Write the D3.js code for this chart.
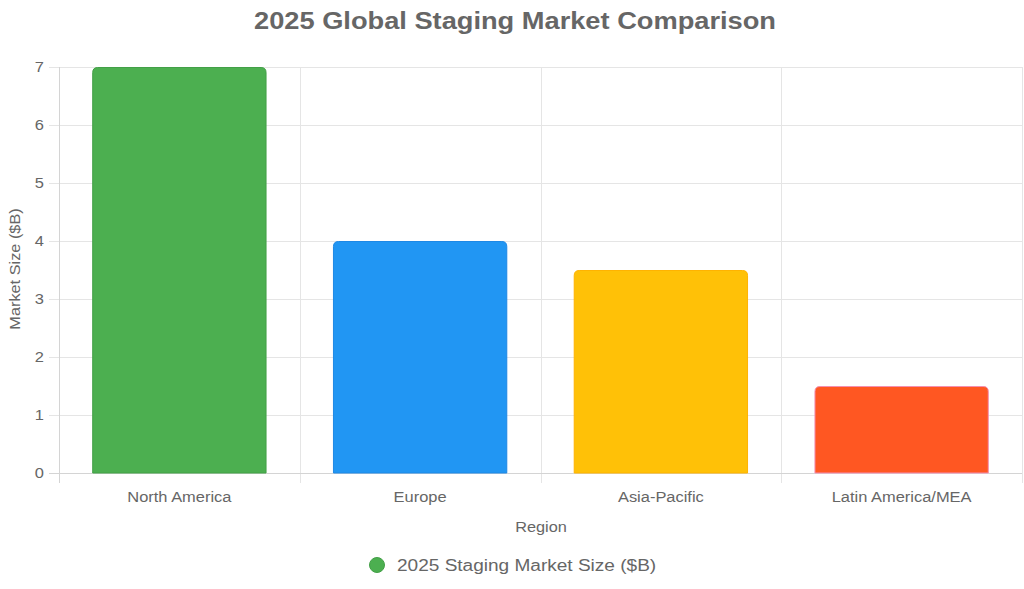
<!DOCTYPE html>
<html><head><meta charset="utf-8">
<script src="https://cdn.jsdelivr.net/npm/d3@7"></script>
<style>body{margin:0;background:#fff}svg{display:block;font-family:"Liberation Sans",Arial,Helvetica,sans-serif}</style>
</head><body><svg id="c" width="1024" height="589"></svg>
<script>
const categories = ["North America","Europe","Asia-Pacific","Latin America/MEA"];
const values = [7, 4, 3.5, 1.5];
const colors = ["#4CAF50","#2196F3","#FFC107","#FF5722"];
const borders = ["#43A047","#1E88E5","#FFB300","#F48FB1"];
const yTicks = [0,1,2,3,4,5,6,7];
const seriesName = "2025 Staging Market Size ($B)";
const title = "2025 Global Staging Market Comparison";

const svg = d3.select("#c");
const L = 59, R = 1022, T = 67, B = 473;
const SX = 1.175;
const x = d3.scaleBand().domain(categories).range([L, R]).paddingInner(0).paddingOuter(0);
const y = d3.scaleLinear().domain([0, 7]).range([B, T]);

// grid
const g = svg.append("g");
g.selectAll(".hg").data(yTicks).join("line")
  .attr("x1", L - 10).attr("x2", R).attr("y1", d => y(d) + 0.5).attr("y2", d => y(d) + 0.5)
  .attr("stroke", "#e5e5e5").attr("stroke-width", 1);
const vx = categories.map(c => x(c)).concat([R]);
g.selectAll(".vg").data(vx).join("line")
  .attr("x1", d => Math.round(d) + 0.5).attr("x2", d => Math.round(d) + 0.5)
  .attr("y1", T).attr("y2", B + 10)
  .attr("stroke", "#e5e5e5").attr("stroke-width", 1);
g.append("line").attr("x1", L + 0.5).attr("x2", L + 0.5).attr("y1", T).attr("y2", B + 10).attr("stroke", "#d4d4d4");
g.append("line").attr("x1", L - 10).attr("x2", R).attr("y1", B + 0.5).attr("y2", B + 0.5).attr("stroke", "#d4d4d4");

// y tick labels
svg.append("g").selectAll("text").data(yTicks).join("text")
  .attr("transform", d => `translate(${L - 15},${y(d)}) scale(${SX},1)`).attr("dy", "0.35em")
  .attr("text-anchor", "end").attr("font-size", 14).attr("fill", "#666").text(d => d);

// x tick labels
svg.append("g").selectAll("text").data(categories).join("text")
  .attr("transform", d => `translate(${x(d) + x.bandwidth() / 2},497) scale(${SX},1)`).attr("dy", "0.35em")
  .attr("text-anchor", "middle").attr("font-size", 14).attr("fill", "#666").text(d => d);

// bars with rounded top corners
const bw = x.bandwidth() * 0.72, r = 5;
function barPath(x0, y0, w, h) {
  const rr = Math.min(r, h, w / 2);
  return `M${x0},${y0 + h}V${y0 + rr}Q${x0},${y0} ${x0 + rr},${y0}H${x0 + w - rr}Q${x0 + w},${y0} ${x0 + w},${y0 + rr}V${y0 + h}Z`;
}
svg.append("g").selectAll("path").data(values).join("path")
  .attr("d", (d, i) => {
    const cx = x(categories[i]) + x.bandwidth() / 2;
    return barPath(cx - bw / 2, y(d) + 0.5, bw, B - y(d) - 0.5);
  })
  .attr("fill", (d, i) => colors[i]).attr("stroke", (d, i) => borders[i]).attr("stroke-width", 1);

// title
svg.append("text").attr("transform", "translate(515,21) scale(1.135,1)").attr("dy", "0.35em").attr("text-anchor", "middle")
  .attr("font-size", 24).attr("font-weight", "bold").attr("fill", "#666").text(title);

// axis titles
svg.append("text").attr("transform", `translate(15,269) rotate(-90) scale(1.165,1)`).attr("dy", "0.35em")
  .attr("text-anchor", "middle").attr("font-size", 14).attr("fill", "#666").text("Market Size ($B)");
svg.append("text").attr("transform", `translate(541,527) scale(1.165,1)`).attr("dy", "0.35em")
  .attr("text-anchor", "middle").attr("font-size", 14).attr("fill", "#666").text("Region");

// legend
svg.append("circle").attr("cx", 377).attr("cy", 565).attr("r", 7.5)
  .attr("fill", colors[0]).attr("stroke", borders[0]).attr("stroke-width", 1);
svg.append("text").attr("transform", "translate(397,565) scale(1.19,1)").attr("dy", "0.35em")
  .attr("font-size", 16).attr("fill", "#666").text(seriesName);
</script></body></html>
